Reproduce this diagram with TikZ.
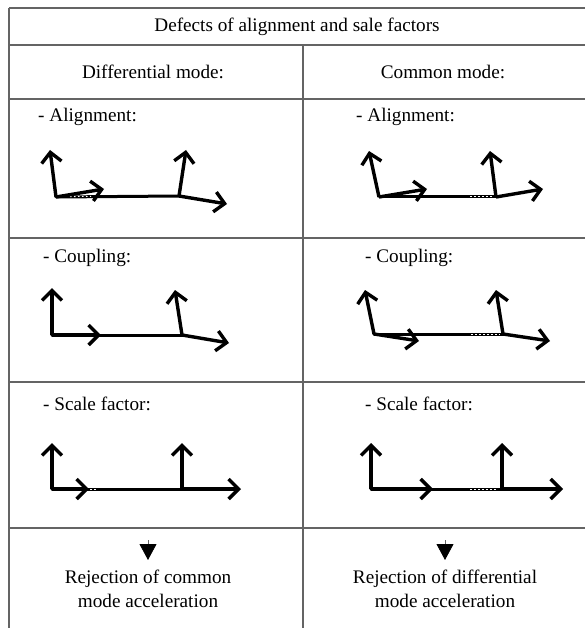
\documentclass[tikz,border=0pt]{standalone}
\usepackage{fontspec}
\setmainfont{Liberation Serif}
\usetikzlibrary{arrows.meta,positioning,calc}
\definecolor{framecolor}{RGB}{100,100,100}

\tikzset{
  frameline/.style={draw=framecolor, line width=1.2pt},
  celltext/.style={font=\fontsize{19.2}{24}\selectfont, inner sep=0pt},
  rodline/.style={line width=3pt, line cap=round},
  vecarrow/.style={line width=3.4pt, -{Straight Barb[length=10pt,width=20pt,line width=3.4pt]}},
  dashpart/.style={white, line width=1pt, dash pattern=on 1.5pt off 2.5pt},
  downtip/.style={draw=framecolor, line width=0.8pt, -{Triangle[length=16pt,width=17pt,color=black]}}
}

\begin{document}
\begin{tikzpicture}[x=1pt,y=-1pt]

\useasboundingbox (0,0) rectangle (585,628);

% Table frame
\foreach \y in {8,45,99,238,382,528} {
  \draw[frameline] (9,\y) -- (585,\y);
}
\draw[frameline] (9,8) -- (9,628);
\draw[frameline] (303,45) -- (303,628);

% Headings
\node[celltext] (title) at (297,27) {Defects of alignment and sale factors};
\node[celltext] (diffhead) at (153,72) {Differential mode:};
\node[celltext] (commhead) at (443,72) {Common mode:};

% Row captions
\node[celltext, anchor=west] (alignL) at (38,117) {- Alignment:};
\node[celltext, anchor=west] (alignR) at (356,117) {- Alignment:};
\node[celltext, anchor=west] (coupL) at (43,258) {- Coupling:};
\node[celltext, anchor=west] (coupR) at (365,258) {- Coupling:};
\node[celltext, anchor=west] (scaleL) at (43,404) {- Scale factor:};
\node[celltext, anchor=west] (scaleR) at (365,404) {- Scale factor:};

% Alignment, differential mode
\coordinate (a1) at (56,197);
\coordinate (b1) at (179,196);
\draw[rodline] (a1) -- (b1);
\draw[dashpart] (70,196.6) -- (91,196.3);
\draw[vecarrow] (a1) -- (50,150);
\draw[vecarrow] (a1) -- (104,189);
\draw[vecarrow] (b1) -- (186,150);
\draw[vecarrow] (b1) -- (227,204);

% Alignment, common mode
\coordinate (a2) at (379,197);
\coordinate (b2) at (496,197);
\draw[rodline] (a2) -- (b2);
\draw[dashpart] (470,197) -- (494,197);
\draw[vecarrow] (a2) -- (369,151);
\draw[vecarrow] (a2) -- (427,189);
\draw[vecarrow] (b2) -- (490,151);
\draw[vecarrow] (b2) -- (543,189);

% Coupling, differential mode
\coordinate (a3) at (52,335);
\coordinate (b3) at (182,335);
\draw[rodline] (a3) -- (b3);
\draw[dashpart] (57,335) -- (80,335);
\draw[vecarrow] (a3) -- (52,288);
\draw[vecarrow] (a3) -- (101,335);
\draw[vecarrow] (b3) -- (175,290);
\draw[vecarrow] (b3) -- (229,343);

% Coupling, common mode
\coordinate (a4) at (374,334);
\coordinate (b4) at (503,334);
\draw[rodline] (a4) -- (b4);
\draw[dashpart] (471,334) -- (500,334);
\draw[vecarrow] (a4) -- (365,290);
\draw[vecarrow] (a4) -- (419,341);
\draw[vecarrow] (b4) -- (496,290);
\draw[vecarrow] (b4) -- (550,341);

% Scale factor, differential mode
\coordinate (a5) at (52,489);
\coordinate (b5) at (182,489);
\draw[rodline] (a5) -- (b5);
\draw[dashpart] (90,489) -- (97,489);
\draw[vecarrow] (a5) -- (52,443);
\draw[vecarrow] (a5) -- (89,489);
\draw[vecarrow] (b5) -- (182,443);
\draw[vecarrow] (b5) -- (241,489);

% Scale factor, common mode
\coordinate (a6) at (371,489);
\coordinate (b6) at (502,489);
\draw[rodline] (a6) -- (b6);
\draw[dashpart] (470,489) -- (498,489);
\draw[vecarrow] (a6) -- (371,443);
\draw[vecarrow] (a6) -- (433,489);
\draw[vecarrow] (b6) -- (502,443);
\draw[vecarrow] (b6) -- (563,489);

% Conclusions
\coordinate (tipL) at (148,540);
\coordinate (tipR) at (445,540);
\draw[downtip] (tipL) -- ++(0,20);
\draw[downtip] (tipR) -- ++(0,20);
\node[celltext, align=center] (rejL) at (148,589)
  {Rejection of common\\ mode acceleration};
\node[celltext, align=center] (rejR) at (445,589)
  {Rejection of differential\\ mode acceleration};

\end{tikzpicture}
\end{document}
